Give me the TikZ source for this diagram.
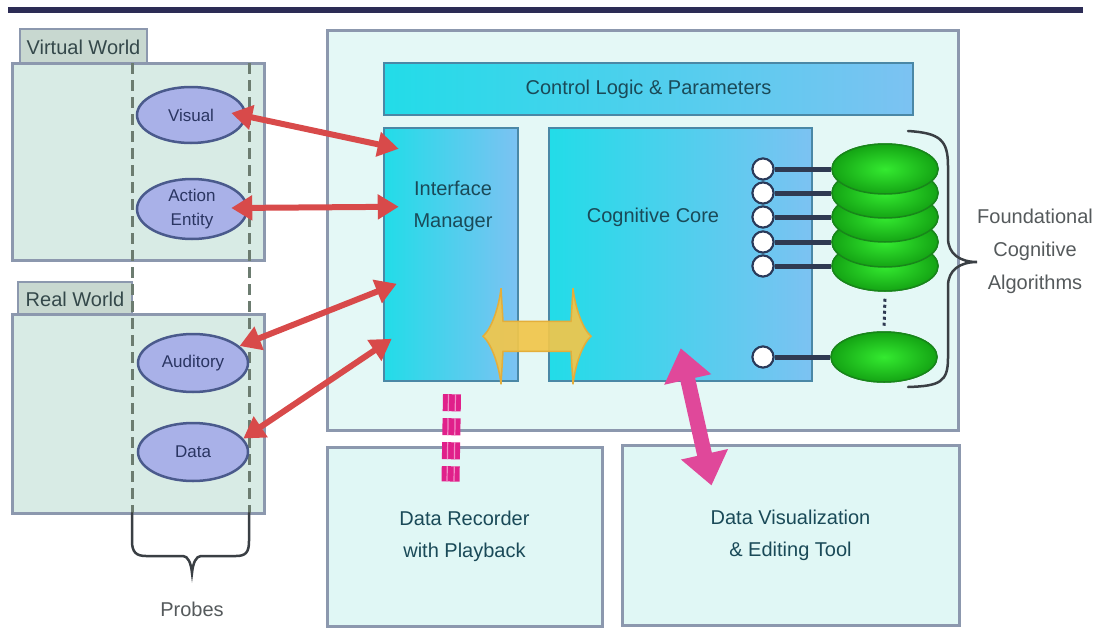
\documentclass[tikz,border=0pt]{standalone}
\usepackage{fontspec}
\setmainfont{Liberation Sans}
\usetikzlibrary{shapes.geometric,arrows.meta,calc}

\definecolor{topline}{HTML}{2C2C55}
\definecolor{frame}{HTML}{8C98AE}
\definecolor{panelfill}{HTML}{D8EBE5}
\definecolor{tagfill}{HTML}{C8D8D0}
\definecolor{tagtext}{HTML}{34484A}
\definecolor{probefill}{HTML}{A9B1E8}
\definecolor{probeedge}{HTML}{4A5A8C}
\definecolor{probetext}{HTML}{2A3562}
\definecolor{dashgray}{HTML}{6C7C70}
\definecolor{mainfill}{HTML}{E4F8F6}
\definecolor{cyanL}{HTML}{22DCE8}
\definecolor{cyanR}{HTML}{7CC2F2}
\definecolor{cyanedge}{HTML}{4A88A6}
\definecolor{tealtext}{HTML}{1A4A58}
\definecolor{toolfill}{HTML}{E0F7F5}
\definecolor{redarr}{HTML}{D84A4A}
\definecolor{pinkarr}{HTML}{E0489A}
\definecolor{recpink}{HTML}{E0208A}
\definecolor{recstripe}{HTML}{F38CC6}
\definecolor{gold}{HTML}{F2C64A}
\definecolor{goldedge}{HTML}{E4AE3A}
\definecolor{greenIn}{HTML}{34EA30}
\definecolor{greenOut}{HTML}{14A414}
\definecolor{greenEdge}{HTML}{18861A}
\definecolor{portedge}{HTML}{2A3A5A}
\definecolor{linkcol}{HTML}{2F3A52}
\definecolor{graytext}{HTML}{555A5C}
\definecolor{bracecol}{HTML}{3A3F44}

\begin{document}
\begin{tikzpicture}[x=1pt,y=-1pt,
  font=\fontsize{20}{32}\selectfont,
  panelbox/.style={draw=frame, line width=3pt, fill=panelfill, rectangle, inner sep=0pt},
  tagbox/.style={draw=frame, line width=2.5pt, fill=tagfill, rectangle, inner sep=0pt, text=tagtext},
  probe/.style={ellipse, draw=probeedge, line width=2.5pt, fill=probefill, inner sep=0pt,
    text=probetext, align=center, font=\fontsize{17}{24}\selectfont},
  probeline/.style={dashgray, line width=3pt, dash pattern=on 11pt off 6pt},
  mainbox/.style={draw=frame, line width=3pt, fill=mainfill, rectangle, inner sep=0pt},
  cyanbox/.style={draw=cyanedge, line width=2.5pt, left color=cyanL, right color=cyanR,
    rectangle, inner sep=0pt, text=tealtext},
  toolbox/.style={draw=frame, line width=3pt, fill=toolfill, rectangle, inner sep=0pt,
    text=tealtext, align=center},
  txt/.style={inner sep=0pt, align=center, text=tealtext},
  redarrow/.style={redarr, line width=6pt, {Triangle[length=21pt,width=24pt]}-{Triangle[length=21pt,width=24pt]}},
  pinkarrow/.style={pinkarr, line width=15pt, {Triangle[length=32pt,width=46pt]}-{Triangle[length=32pt,width=46pt]}},
  recdash/.style={recpink, line width=18pt, dash pattern=on 17pt off 7pt},
  recstripes/.style={recstripe, line width=1.2pt, dash pattern=on 17pt off 7pt},
  algo/.style={ellipse, draw=greenEdge, line width=1.5pt, inner color=greenIn, outer color=greenOut,
    minimum width=106pt, minimum height=50pt, inner sep=0pt},
  port/.style={circle, draw=portedge, line width=2pt, fill=white, minimum size=21pt, inner sep=0pt},
  link/.style={linkcol, line width=5pt},
  bracepen/.style={bracecol, line width=2.5pt, line cap=round},
]
\useasboundingbox (0,0) rectangle (1097,629);
\fill[white] (0,0) rectangle (1097,629);

% heading rule
\coordinate (ruleL) at (8,10);
\coordinate (ruleR) at (1083,10);
\draw[topline, line width=6pt] (ruleL) -- (ruleR);

% system frame and its parts
\node[mainbox, minimum width=631pt, minimum height=400pt] (main) at (642.5,230) {};
\node[cyanbox, minimum width=529pt, minimum height=52pt] (ctl) at (648.5,89) {Control Logic \& Parameters};
\node[cyanbox, minimum width=134pt, minimum height=253pt] (im) at (451,254.5) {};
\node[txt] (imt) at (453,206) {Interface\\Manager};
\node[cyanbox, minimum width=263pt, minimum height=253pt] (cc) at (680.5,254.5) {};
\node[txt] (cct) at (653,217) {Cognitive Core};

% tools below
\node[toolbox, minimum width=275pt, minimum height=179pt] (rec) at (464.5,536.5) {Data Recorder\\with Playback};
\node[toolbox, minimum width=337pt, minimum height=180pt] (dv) at (790.5,535) {Data Visualization\\\& Editing Tool};

% worlds
\node[tagbox, minimum width=127pt, minimum height=36pt] (vwt) at (83.5,47) {Virtual World};
\node[panelbox, minimum width=252pt, minimum height=197pt] (vw) at (138,161.5) {};
\node[tagbox, minimum width=114pt, minimum height=34pt] (rwt) at (75,299) {Real World};
\node[panelbox, minimum width=252pt, minimum height=199pt] (rw) at (138,413.5) {};

% probe columns
\coordinate (pa1) at (132,63);
\coordinate (pa2) at (132,513);
\coordinate (pb1) at (249,63);
\coordinate (pb2) at (249,513);
\draw[probeline] (pa1) -- (pa2);
\draw[probeline] (pb1) -- (pb2);

\node[probe, minimum width=108pt, minimum height=56pt] (vis) at (191,115) {Visual};
\node[probe, minimum width=110pt, minimum height=60pt] (ae) at (192,209) {Action\\Entity};
\node[probe, minimum width=110pt, minimum height=58pt] (aud) at (193,363) {Auditory};
\node[probe, minimum width=110pt, minimum height=58pt] (dat) at (193,452) {Data};

% probes brace
\draw[bracepen] (pa2) -- (132,541) .. controls (132,552) and (136,556) .. (146,556)
  -- (183,556) .. controls (188,556) and (191,563) .. (192,573)
  .. controls (193,563) and (196,556) .. (201,556) -- (236,556)
  .. controls (246,556) and (249,552) .. (249,541) -- (pb2);
\node[inner sep=0pt, text=graytext] (probes) at (192,609) {Probes};

% algorithm stack, bottom layer first
\node[algo] (g6) at (884,357) {};
\node[algo] (g5) at (885,266) {};
\node[algo] (g4) at (885,242) {};
\node[algo] (g3) at (885,217) {};
\node[algo] (g2) at (885,193) {};
\node[algo] (g1) at (885,169) {};
\foreach \i/\yy in {1/169,2/193,3/217,4/242,5/266,6/357}{
  \node[port] (c\i) at (763,\yy) {};
}
\foreach \i in {1,...,6}{
  \draw[link] (c\i) -- (g\i);
}
% ports and layer fronts again, above the links
\foreach \i in {6,5,4,3,2,1}{
  \node[algo] at (g\i) {};
}
\foreach \i in {1,...,6}{
  \node[port] at (c\i) {};
}
\draw[linkcol, line width=3pt, dash pattern=on 3pt off 3pt] (g5.south) ++(0,7) -- ($(g6.north)+(0,-5)$);

% algorithms brace
\draw[bracepen] (908,131) .. controls (940,133) and (948,140) .. (948,166) -- (948,238)
  .. controls (948,254) and (960,262) .. (977,262)
  .. controls (960,262) and (948,270) .. (948,286) -- (948,358)
  .. controls (948,382) and (940,386) .. (908,387);
\node[inner sep=0pt, text=graytext, align=center, font=\fontsize{20}{33}\selectfont] (fca) at (1035,251) {Foundational\\Cognitive\\Algorithms};

% exchange between interface manager and core
\coordinate (ya) at ($(im.south east)!0.5!(cc.south west)+(3.5,-46)$);
\begin{scope}[shift={(ya)}]
  \filldraw[fill=gold, draw=goldedge, line width=1.5pt, fill opacity=0.92]
    (-54,0) .. controls (-45,-8) and (-38,-30) .. (-36,-48) -- (-34,-15) -- (34,-15) -- (36,-48)
    .. controls (38,-30) and (45,-8) .. (54,0) .. controls (45,8) and (38,30) .. (36,48)
    -- (34,15) -- (-34,15) -- (-36,48) .. controls (-38,30) and (-45,8) .. (-54,0) -- cycle;
\end{scope}

% recorder feed
\draw[recdash] ($(im.south)+(1,12)$) -- ($(rec.north west)+(125,36)$);
\draw[recstripes] ($(im.south)+(-2.5,12)$) -- ($(rec.north west)+(121.5,36)$);
\draw[recstripes] ($(im.south)+(4.5,12)$) -- ($(rec.north west)+(128.5,36)$);

% core <-> visualization tool
\draw[pinkarrow] ($(cc.south west)+(133,-34)$) -- ($(dv.north west)+(91,42)$);

% probe <-> interface manager links
\draw[redarrow] ($(vis.east)+(-15,-2)$) -- ($(im.north west)+(16,22)$);
\draw[redarrow] ($(ae.east)+(-17,-1)$) -- ($(im.north west)+(16,80)$);
\draw[redarrow] (aud.20) -- ($(im.north west)+(14,157)$);
\draw[redarrow] (dat.15) -- ($(im.north west)+(9,212)$);
\end{tikzpicture}
\end{document}
